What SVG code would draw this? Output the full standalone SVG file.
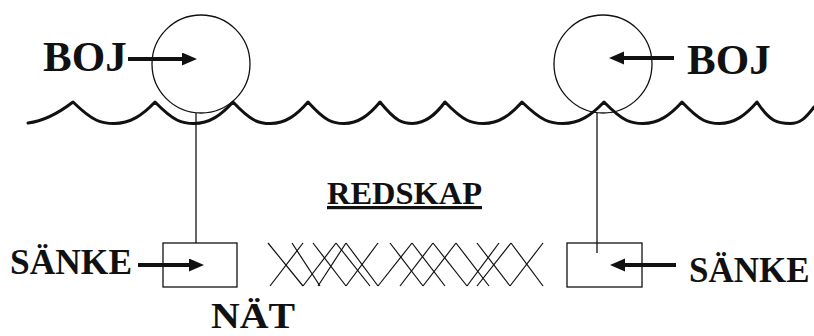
<svg xmlns="http://www.w3.org/2000/svg" width="814" height="336" viewBox="0 0 814 336">
<style>
.lbl{font-family:"Liberation Serif","Times New Roman",serif;font-weight:bold;fill:#111}
.thin{fill:none;stroke:#111;stroke-width:1.3}
.net{fill:none;stroke:#111;stroke-width:1.2}
.wave{fill:none;stroke:#111;stroke-width:3;stroke-linejoin:round;stroke-linecap:round}
.arr{stroke:#111;stroke-width:4;fill:none;marker-end:url(#ah)}
</style>
<defs>
<marker id="ah" markerUnits="userSpaceOnUse" markerWidth="16" markerHeight="14" refX="1" refY="6.5" orient="auto">
<path d="M0,0 L15,6.5 L0,13 z" fill="#111"/>
</marker>
</defs>
<rect width="814" height="336" fill="#fff"/>
<g id="water">
<path class="wave" d="M28,123 C45,121 60,112 73,102 C93.5,122 101.7,123.5 114,123.5 C130.4,123.5 142.7,115 155,102 C174.5,122 182.3,123.5 194,123.5 C209.6,123.5 221.3,115 233,102 C251.75,122 259.25,123.5 270.5,123.5 C285.5,123.5 296.75,115 308,102 C326,122 333.2,123.5 344,123.5 C358.4,123.5 369.2,115 380,102 C396.25,122 402.75,123.5 412.5,123.5 C425.5,123.5 435.25,115 445,102 C464.25,122 471.95,123.5 483.5,123.5 C498.9,123.5 510.45,115 522,102 C542.5,122 550.7,123.5 563,123.5 C579.4,123.5 591.7,115 604,102 C623.5,122 631.3,123.5 643,123.5 C658.6,123.5 670.3,115 682,102 C700.75,122 708.25,123.5 719.5,123.5 C734.5,123.5 745.75,115 757,102 C770,122 778,123.5 790,123.5 C800,123.5 806,118 814,107"/>
</g>
<g id="boj-left">
<circle class="thin" cx="201" cy="64" r="49"/>
<text class="lbl" x="43" y="71" font-size="43">BOJ</text>
</g>
<g id="boj-right">
<circle class="thin" cx="603" cy="64" r="49"/>
<text class="lbl" x="687" y="74" font-size="43">BOJ</text>
</g>
<g id="sanke-left">
<rect class="thin" x="163" y="243" width="74" height="44"/>
<text class="lbl" x="10" y="274" font-size="36" textLength="122" lengthAdjust="spacingAndGlyphs">SÄNKE</text>
</g>
<g id="sanke-right">
<rect class="thin" x="567" y="243" width="75" height="44"/>
<text class="lbl" x="689" y="282" font-size="35">SÄNKE</text>
</g>
<g id="redskap">
<text class="lbl" x="327" y="204" font-size="32" textLength="155" lengthAdjust="spacingAndGlyphs" text-decoration="underline">REDSKAP</text>
</g>
<g id="nat">
<g class="net">
<line x1="268" y1="243" x2="303" y2="286"/>
<line x1="303" y1="243" x2="270" y2="286"/>
<line x1="292" y1="243" x2="320" y2="286"/>
<line x1="313" y1="243" x2="346" y2="286"/>
<line x1="336" y1="243" x2="303" y2="286"/>
<line x1="336" y1="243" x2="370" y2="286"/>
<line x1="346" y1="243" x2="318" y2="286"/>
<line x1="346" y1="243" x2="378" y2="286"/>
<line x1="378" y1="243" x2="346" y2="286"/>
<line x1="390" y1="243" x2="423" y2="286"/>
<line x1="412" y1="243" x2="378" y2="286"/>
<line x1="412" y1="243" x2="445" y2="286"/>
<line x1="433" y1="243" x2="400" y2="286"/>
<line x1="433" y1="243" x2="467" y2="286"/>
<line x1="456" y1="243" x2="423" y2="286"/>
<line x1="456" y1="243" x2="489" y2="286"/>
<line x1="477" y1="243" x2="510" y2="286"/>
<line x1="499" y1="243" x2="467" y2="286"/>
<line x1="511" y1="243" x2="477" y2="286"/>
<line x1="511" y1="243" x2="543" y2="286"/>
<line x1="543" y1="243" x2="510" y2="286"/>
</g>
<text class="lbl" x="211" y="328" font-size="36" textLength="84" lengthAdjust="spacingAndGlyphs">NÄT</text>
</g>
<g id="connectors">
<line class="thin" x1="196" y1="113" x2="196" y2="243"/>
<line class="thin" x1="597" y1="113" x2="597" y2="253"/>
<line class="arr" x1="128" y1="59" x2="183" y2="59"/>
<line class="arr" x1="674" y1="58" x2="623" y2="58"/>
<line class="arr" x1="138" y1="265" x2="190" y2="265"/>
<line class="arr" x1="676" y1="265" x2="624" y2="265"/>
</g>
</svg>
